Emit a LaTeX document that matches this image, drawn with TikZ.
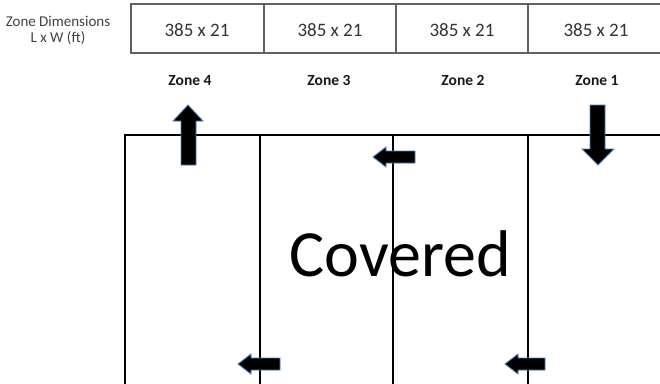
\documentclass[tikz,border=0pt]{standalone}
\usepackage{fontspec}
\setmainfont{Carlito}
\definecolor{glowblue}{RGB}{79,129,189}
\begin{document}
\begin{tikzpicture}[x=1pt, y=-1pt]
        \tikzset{
            dimgrid/.style={draw=black!62, line width=1.6pt},
            zonewall/.style={draw=black, line width=2.6pt},
            flowarrow/.style={fill=black, draw=glowblue, line width=0.9pt, line join=miter},
            dimtext/.style={font=\fontsize{19}{21}\selectfont, text=black!80, anchor=base},
            zonetext/.style={font=\fontsize{15.5}{17}\selectfont\bfseries, text=black!90, anchor=base},
            headtext/.style={font=\fontsize{15}{16}\selectfont, text=black!75, align=center}
        }
        \useasboundingbox (0,0) rectangle (660,383);

        % dimensions table
        \node[headtext] (dimhead) at (58,30) {Zone Dimensions\\L x W (ft)};
        \draw[dimgrid] (131,4) rectangle (664,53);
        \foreach \xdiv in {264,396,528}
            \draw[dimgrid] (\xdiv,4) -- (\xdiv,53);
        \node[dimtext] (dim4) at (197,36) {385 x 21};
        \node[dimtext] (dim3) at (330,36) {385 x 21};
        \node[dimtext] (dim2) at (462,36) {385 x 21};
        \node[dimtext] (dim1) at (596,36) {385 x 21};

        % zone names
        \node[zonetext] (zone4) at (190,85) {Zone 4};
        \node[zonetext] (zone3) at (329,85) {Zone 3};
        \node[zonetext] (zone2) at (463,85) {Zone 2};
        \node[zonetext] (zone1) at (597,85) {Zone 1};

        % covered area
        \draw[zonewall] (125,390) -- (125,135) -- (664,135);
        \foreach \xwall in {260,393,528}
            \draw[zonewall] (\xwall,135) -- (\xwall,390);
        \node[font=\fontsize{66}{70}\selectfont, anchor=base] (covered) at (400,276) {Covered};

        % traffic arrows
        \draw[flowarrow] (188,105) -- (203,121) -- (196,121) -- (196,165) -- (181,165) -- (181,121) -- (173,121) -- cycle;
        \draw[flowarrow] (598,165) -- (614,149) -- (605,149) -- (605,105) -- (590,105) -- (590,149) -- (582,149) -- cycle;
        \draw[flowarrow] (373,157) -- (386,147) -- (386,151) -- (415,151) -- (415,163) -- (386,163) -- (386,167) -- cycle;
        \draw[flowarrow] (238,364) -- (251,354) -- (251,358) -- (280,358) -- (280,370) -- (251,370) -- (251,374) -- cycle;
        \draw[flowarrow] (505,364) -- (518,354) -- (518,358) -- (545,358) -- (545,370) -- (518,370) -- (518,374) -- cycle;
    \end{tikzpicture}
\end{document}
